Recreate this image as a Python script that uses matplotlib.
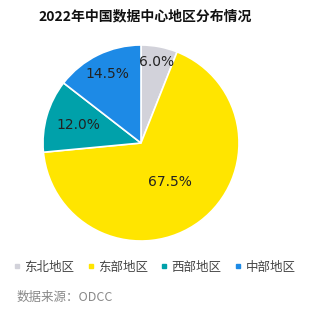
import matplotlib
matplotlib.use("Agg")
import matplotlib.pyplot as plt
from matplotlib.lines import Line2D
import numpy as np

plt.rcParams['font.family'] = ['Noto Sans CJK SC', 'DejaVu Sans']

categories = ['东北地区', '东部地区', '西部地区', '中部地区']
values = [6.0, 67.5, 12.0, 14.5]
labels = ['6.0%', '67.5%', '12.0%', '14.5%']
colors = ['#d2d2da', '#ffe500', '#00a1aa', '#1d8ae6']
label_r = [0.84, 0.50, 0.67, 0.78]

W, H = 318, 335
fig = plt.figure(figsize=(W / 100, H / 100), dpi=100)
cx, cy, r = 141, 143, 98
ax = fig.add_axes([(cx - r) / W, 1 - (cy + r) / H, 2 * r / W, 2 * r / H])

wedges, _ = ax.pie(values, colors=colors, startangle=90, counterclock=False,
                   wedgeprops=dict(edgecolor='white', linewidth=1.2))
ax.set_xlim(-1, 1)
ax.set_ylim(-1, 1)
ax.axis('off')

for w, lab, lr in zip(wedges, labels, label_r):
    ang = np.deg2rad((w.theta1 + w.theta2) / 2)
    ax.text(lr * np.cos(ang), lr * np.sin(ang), lab, ha='center', va='center',
            fontsize=10, color='#222222', family=['DejaVu Sans'])

fig.text(145 / W, 1 - 16 / H, '2022年中国数据中心地区分布情况', ha='center', va='center',
         fontsize=10, fontweight='bold', color='#111111')

handles = [Line2D([], [], marker='s', linestyle='none', markersize=3,
                  markerfacecolor=c, markeredgecolor=c) for c in colors]
fig.legend(handles, categories, loc='center left', bbox_to_anchor=(13 / W, 1 - 267 / H),
           ncol=4, frameon=False, fontsize=9, handlelength=0.6, handletextpad=0.3,
           columnspacing=1.0, labelcolor='#444444', borderaxespad=0, borderpad=0)

fig.text(17 / W, 1 - 297 / H, '数据来源：ODCC', ha='left', va='center',
         fontsize=9, color='#888888')

fig.savefig('out.png', dpi=100)
